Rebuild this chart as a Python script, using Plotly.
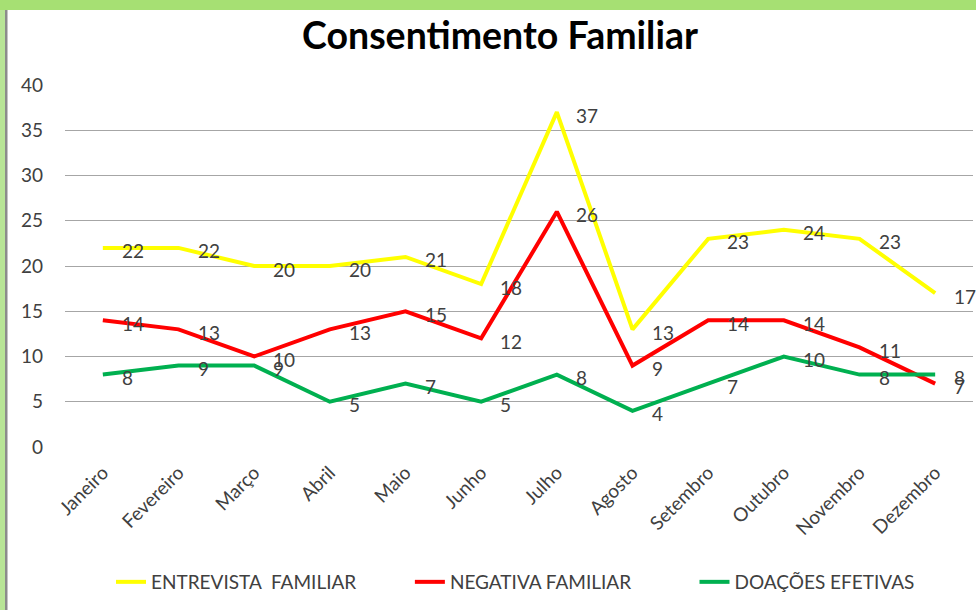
import plotly.graph_objects as go

months = ["Janeiro", "Fevereiro", "Março", "Abril", "Maio", "Junho", "Julho",
          "Agosto", "Setembro", "Outubro", "Novembro", "Dezembro"]
entrevista = [22, 22, 20, 20, 21, 18, 37, 13, 23, 24, 23, 17]
negativa = [14, 13, 10, 13, 15, 12, 26, 9, 14, 14, 11, 7]
doacoes = [8, 9, 9, 5, 7, 5, 8, 4, 7, 10, 8, 8]
legend_names = ["ENTREVISTA  FAMILIAR", "NEGATIVA FAMILIAR", "DOAÇÕES EFETIVAS"]
colors = ["#FFFF00", "#FF0000", "#00B050"]

FONT = "Lato, Carlito, Calibri, sans-serif"
TXT = "#404040"

W, H = 976, 610
ML, MR, MT, MB = 65, 3, 85, 163
PW = W - ML - MR
PH = H - MT - MB

def px_x(p):
    return (p - ML) / PW

def px_y(p):
    return (H - MB - p) / PH

PADS = ["\u00a0" * 10, "\u00a0" * 12, ""]

fig = go.Figure()
annotations = []
for i, (name, vals, color) in enumerate(zip(legend_names, [entrevista, negativa, doacoes], colors)):
    shown = name.replace("  ", "\u00a0 ") + PADS[i]
    fig.add_trace(go.Scatter(
        x=months, y=vals, name=shown, mode="lines",
        line=dict(color=color, width=4),
        hoverinfo="x+y",
    ))
    for m, v in zip(months, vals):
        annotations.append(dict(
            x=m, y=v, xref="x", yref="y", text=str(v), showarrow=False,
            xanchor="left", yanchor="middle", xshift=17, yshift=-3,
            font=dict(family=FONT, size=19, color=TXT),
        ))

shapes = [
    dict(type="rect", xref="paper", yref="paper", layer="below",
         x0=px_x(0), x1=px_x(W), y0=px_y(10), y1=px_y(0),
         fillcolor="#A6E073", line=dict(width=0)),
    dict(type="rect", xref="paper", yref="paper", layer="below",
         x0=px_x(0), x1=px_x(5), y0=px_y(H), y1=px_y(10),
         fillcolor="#B8E596", line=dict(width=0)),
    dict(type="rect", xref="paper", yref="paper", layer="below",
         x0=px_x(5), x1=px_x(7.5), y0=px_y(H), y1=px_y(10),
         fillcolor="#8C8C8C", line=dict(width=0)),
]

fig.update_layout(
    width=W, height=H,
    margin=dict(l=ML, r=MR, t=MT, b=MB, autoexpand=False),
    paper_bgcolor="white", plot_bgcolor="white",
    title=dict(text="<b>Consentimento Familiar</b>", x=500 / W, xanchor="center",
               y=1 - 36 / H, yanchor="middle",
               font=dict(family=FONT, size=37.5, color="black")),
    font=dict(family=FONT, size=19, color=TXT),
    xaxis=dict(
        type="category", tickangle=-45, showgrid=False, zeroline=False,
        showline=False, ticks="", tickfont=dict(family=FONT, size=19, color=TXT),
        ticklabelstandoff=10, range=[-0.5, 11.5], fixedrange=True,
    ),
    yaxis=dict(
        range=[0, 40], dtick=5, showgrid=True, gridcolor="#A6A6A6", gridwidth=1,
        zeroline=False, showline=False, ticks="", fixedrange=True,
        tickfont=dict(family=FONT, size=19, color=TXT), ticklabelstandoff=21,
    ),
    showlegend=True,
    legend=dict(orientation="h", x=px_x(111), xanchor="left", y=px_y(582),
                yanchor="middle", font=dict(family=FONT, size=19, color=TXT),
                traceorder="normal"),
    annotations=annotations,
    shapes=shapes,
)

fig.write_html("out.html", config={"displayModeBar": False},
               post_script="document.body.style.margin='0';")
